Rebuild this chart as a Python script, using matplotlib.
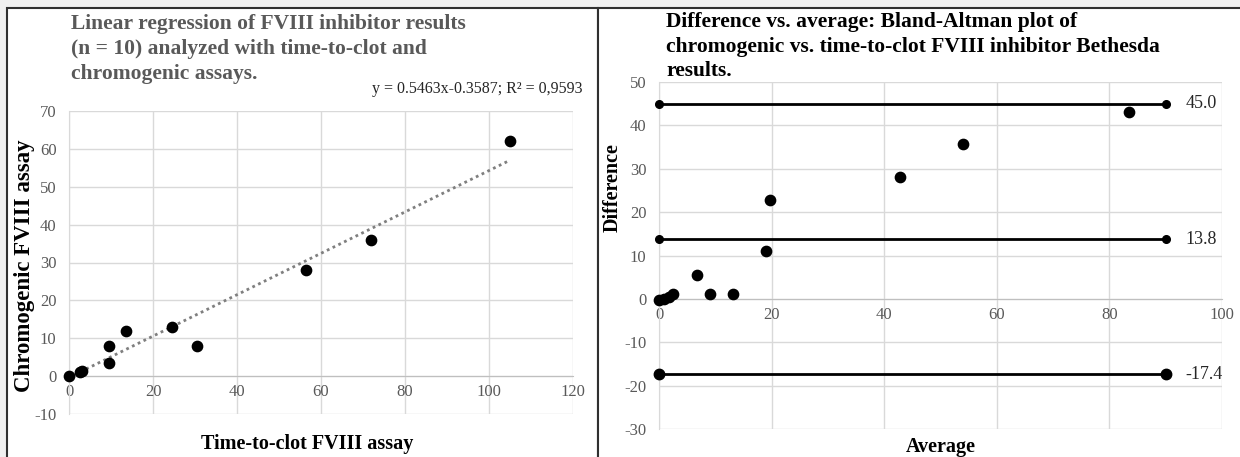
import numpy as np
import matplotlib.pyplot as plt
from matplotlib.patches import Rectangle

plt.rcParams['font.family'] = ['Liberation Serif', 'DejaVu Serif']
plt.rcParams['axes.unicode_minus'] = False

# left panel: time-to-clot vs chromogenic
clot = [0, 2.5, 3.2, 9.5, 9.5, 13.5, 24.5, 30.5, 56.5, 72, 105]
chromo = [0, 1.0, 1.3, 8.0, 3.5, 12.0, 13.0, 8.0, 28.0, 36.0, 62.0]
slope, intercept = 0.5463, -0.3587
fit_x = [0, 105]

# right panel: Bland-Altman
avg = [0, 0.8, 1.8, 2.5, 6.8, 9.0, 13.2, 19.0, 19.8, 42.8, 54.0, 83.5]
diff = [-0.2, -0.1, 0.5, 1.2, 5.5, 1.2, 1.2, 11.0, 22.8, 28.2, 35.8, 43.0]
limits = [45.0, 13.8, -17.4]
limit_x = [0, 90]

GRID = '#d9d9d9'
TICK = '#595959'

fig = plt.figure(figsize=(12.4, 4.57), dpi=100, facecolor='#f0f0f0')
W, H = 1240, 457

# panel frames
fig.patches.append(Rectangle((7 / W, -0.01), (598 - 7) / W, 1.01 - 8 / H, transform=fig.transFigure,
                             facecolor='white', edgecolor='#303030', lw=1.5, zorder=-5))
fig.patches.append(Rectangle((598 / W, -0.01), (W + 5 - 598) / W, 1.01 - 8 / H, transform=fig.transFigure,
                             facecolor='white', edgecolor='#303030', lw=1.5, zorder=-5))


def style(ax):
    ax.set_facecolor('none')
    ax.grid(True, color=GRID, lw=1)
    ax.set_axisbelow(True)
    for s in ['top', 'right']:
        ax.spines[s].set_visible(False)
    ax.spines['bottom'].set_position(('data', 0))
    ax.spines['bottom'].set_color('#bfbfbf')
    ax.spines['left'].set_color(GRID)
    ax.tick_params(length=0, labelsize=12, colors=TICK)
    ax.tick_params(axis='y', pad=9)
    ax.tick_params(axis='x', pad=6)


ax1 = fig.add_axes([69 / W, 1 - 414 / H, (573 - 69) / W, (414 - 111) / H])
style(ax1)
ax1.set_xlim(0, 120)
ax1.set_ylim(-10, 70)
ax1.set_xticks(np.arange(0, 121, 20))
ax1.set_yticks(np.arange(-10, 71, 10))
fx = np.array(fit_x)
ax1.plot(fx, slope * fx + intercept, ls=(0, (1, 1.3)), color='#7f7f7f', lw=2, zorder=2)
ax1.scatter(clot, chromo, s=55, color='black', zorder=3, clip_on=False)
fig.text(71 / W, 1 - 49 / H, 'Linear regression of FVIII inhibitor results\n(n = 10) analyzed with time-to-clot and\nchromogenic assays.',
         ha='left', va='center', fontsize=15.5, fontweight='bold', color='#595959', linespacing=1.35)
fig.text(583 / W, 1 - 89 / H, 'y = 0.5463x-0.3587; R² = 0,9593', ha='right', va='center',
         fontsize=11.5, color='#262626')
ax1.set_xlabel('Time-to-clot FVIII assay', fontsize=14.5, fontweight='bold', va='center')
ax1.set_ylabel('Chromogenic FVIII assay', fontsize=16.5, fontweight='bold', va='center')
ax1.xaxis.set_label_coords(0.472, -(444 - 414) / 303)
ax1.yaxis.set_label_coords(-(69 - 25) / 504, 0.49)

ax2 = fig.add_axes([659 / W, 1 - 429 / H, (1222 - 659) / W, (429 - 82) / H])
style(ax2)
ax2.set_xlim(0, 100)
ax2.set_ylim(-30, 50)
ax2.set_xticks(np.arange(0, 101, 20))
ax2.set_yticks(np.arange(-30, 51, 10))
for i, lv in enumerate(limits):
    ms = 7.5 if i == 2 else 5.5
    ax2.plot(limit_x, [lv, lv], color='black', lw=2, marker='o', ms=ms, zorder=3, clip_on=False)
    ax2.text(limit_x[1] + 3.5, lv, f'{lv:.1f}', ha='left', va='center', fontsize=13, color='#262626')
ax2.scatter(avg, diff, s=55, color='black', zorder=4, clip_on=False)
fig.text(666 / W, 1 - 47 / H, 'Difference vs. average: Bland-Altman plot of\nchromogenic vs. time-to-clot FVIII inhibitor Bethesda\nresults.',
         ha='left', va='center', fontsize=15.5, fontweight='bold', color='black', linespacing=1.3)
ax2.set_xlabel('Average', fontsize=14.5, fontweight='bold', va='center')
ax2.set_ylabel('Difference', fontsize=14.5, fontweight='bold', va='center')
ax2.xaxis.set_label_coords(0.5, -(447 - 429) / 347)
ax2.yaxis.set_label_coords(-(659 - 613) / 563, (429 - 188) / 347)

fig.savefig('out.png', dpi=100, facecolor=fig.get_facecolor())
